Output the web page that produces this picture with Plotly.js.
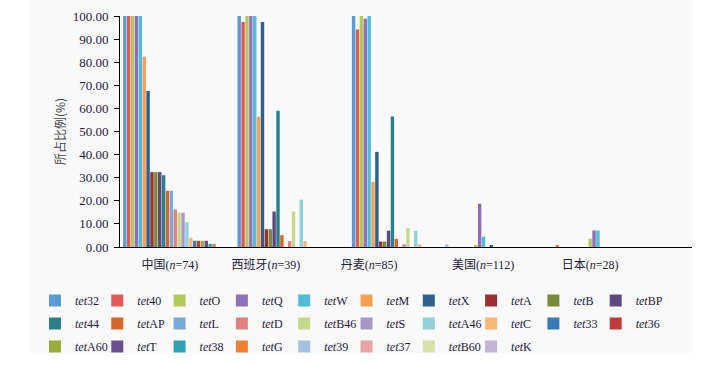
<!DOCTYPE html>
<html>
<head>
<meta charset="utf-8">
<script src="https://cdn.plot.ly/plotly-3.0.1.min.js"></script>
<style>
html,body{margin:0;padding:0;background:#ffffff;}
#chart{position:absolute;left:30px;top:0;width:663px;height:353px;}
</style>
</head>
<body>
<div id="chart"></div>
<script>
// Categories (x tick labels)
const countries = ['中国(<i>n</i>=74)', '西班牙(<i>n</i>=39)', '丹麦(<i>n</i>=85)', '美国(<i>n</i>=112)', '日本(<i>n</i>=28)'];
// Gene series (legend order)
const genes = ['tet32','tet40','tetO','tetQ','tetW','tetM','tetX','tetA','tetB','tetBP',
               'tet44','tetAP','tetL','tetD','tetB46','tetS','tetA46','tetC','tet33','tet36',
               'tetA60','tetT','tet38','tetG','tet39','tet37','tetB60','tetK'];
// Percentages per country, one value per gene (legend order)
const chinaVals   = [100,100,100,100,100,82.43,67.57,32.43,32.43,32.43,31.08,24.32,24.32,16.22,14.86,14.86,10.81,4.05,2.70,2.70,2.70,2.70,1.35,1.35,0,0,0,0];
const spainVals   = [100,97.44,100,100,100,56.41,97.44,7.69,7.69,15.38,58.97,5.13,0,2.56,15.38,0,20.51,2.56,0,0,0,0,0,0,0,0,0,0];
const denmarkVals = [100,94.12,100,98.82,100,28.24,41.18,2.35,2.35,7.06,56.47,3.53,0,1.18,8.24,0,7.06,1.18,0,0,0,0,0,0,1.18,0,0,0];
const usaVals     = [0,0,0.89,18.75,4.46,0,0.89,0,0,0,0,0,0,0,0,0,0,0,0,0,0,0,0,0.89,0,0,0,0];
const japanVals   = [0,0,3.57,7.14,7.14,0,0,0,0,0,0,0,0,0,0,0,0,0,0,0,0,0,0,0,0,0,0,0];
const yTicks = [0,10,20,30,40,50,60,70,80,90,100];

const colors = ['#5b9bd5','#e05a5a','#b5c95a','#8e70b8','#50bcd8','#f7a052','#2f5f8f','#9b3030','#7a8a3a','#5c4a80',
                '#2a7f8a','#d4662a','#7aaad8','#e08080','#c8d88a','#a898c8','#92d0dc','#f8b878','#3a7ab8','#c03a3a',
                '#9aac3c','#6a4f90','#30a2b8','#f08030','#a4c2e0','#e8a4a4','#d8e2a8','#c2b6d6'];

const allVals = [chinaVals, spainVals, denmarkVals, usaVals, japanVals];
const xIdx = countries.map((c,i)=>i);
const nCols = 10;

function italicName(g){ return '<i>tet</i>' + g.slice(3); }
function legendId(j){ const c = j % nCols; return c === 0 ? 'legend' : 'legend' + (c+1); }

const traces = genes.map((g,j)=>({
  type:'bar',
  name: italicName(g),
  legend: legendId(j),
  legendgroup: g,
  x: xIdx,
  y: allVals.map(v=>v[j]),
  marker:{color:colors[j]},
  hoverinfo:'name+y'
}));

// tick label positions (label centres as placed in the original figure)
const tickPos = [-0.063, 0.776, 1.677, 2.674, 3.61];

const layout = {
  width:663, height:353,
  paper_bgcolor:'#f9f9f9', plot_bgcolor:'#f9f9f9',
  margin:{l:90, r:1, t:16, b:106, autoexpand:false},
  barmode:'group', bargap:0.05, bargroupgap:0.12,
  font:{family:'Liberation Serif, Noto Sans CJK SC, serif', size:12, color:'#1f2040'},
  xaxis:{
    type:'linear', range:[-0.5,4.5], showgrid:false, zeroline:false,
    showline:true, linecolor:'#000', linewidth:1,
    tickmode:'array', tickvals:tickPos, ticktext:countries, ticks:'',
    ticklabelstandoff:7,
    tickfont:{family:'Liberation Serif, Noto Sans CJK SC, serif', size:12, color:'#1f2040'}
  },
  yaxis:{
    range:[0,100], tickmode:'array', tickvals:yTicks, tickformat:'.2f',
    showgrid:false, zeroline:false, showline:true, linecolor:'#000', linewidth:1,
    ticks:'outside', ticklen:5, tickcolor:'#000', ticklabelstandoff:3,
    tickfont:{family:'Liberation Serif, serif', size:13, color:'#1f2040'},
    title:{text:'所占比例(%)', standoff:4, font:{family:'Noto Sans CJK SC, sans-serif', size:12, color:'#444'}}
  },
  showlegend:true
};

// one vertical legend per legend column
const legLeft0 = -0.1486, legPitch = 62.3/572, legTop = -0.1688;
for (let c = 0; c < nCols; c++) {
  const id = c === 0 ? 'legend' : 'legend' + (c+1);
  layout[id] = {
    orientation:'v', x: legLeft0 + c*legPitch, xanchor:'left', y: legTop, yanchor:'top',
    traceorder:'grouped', tracegroupgap:4, bgcolor:'rgba(0,0,0,0)',
    font:{family:'Liberation Serif, serif', size:12, color:'#1f2040'}
  };
}

Plotly.newPlot('chart', traces, layout, {displayModeBar:false, staticPlot:true});
</script>
</body>
</html>
